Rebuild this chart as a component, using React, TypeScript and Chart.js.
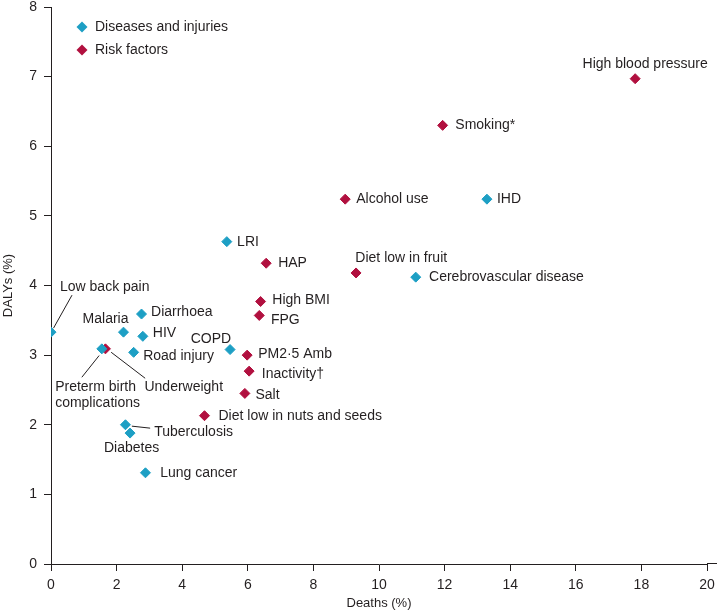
import React, { useEffect, useRef } from 'react';
import { Chart, registerables } from 'chart.js';

Chart.register(...registerables);

// ---------- DATA ----------
const diseaseNames = [
  'Low back pain', 'Malaria', 'Diarrhoea', 'HIV', 'Road injury',
  'Preterm birth complications', 'Tuberculosis', 'Diabetes', 'Lung cancer',
  'COPD', 'LRI', 'Cerebrovascular disease', 'IHD',
];
const diseaseDeaths = [0, 2.21, 2.76, 2.8, 2.52, 1.55, 2.27, 2.41, 2.88, 5.46, 5.36, 11.12, 13.29];
const diseaseDalys = [3.33, 3.33, 3.59, 3.27, 3.04, 3.09, 2.0, 1.88, 1.31, 3.08, 4.63, 4.12, 5.24];

const riskNames = [
  'High blood pressure', 'Smoking*', 'Alcohol use', 'Diet low in fruit', 'HAP',
  'High BMI', 'FPG', 'PM2·5 Amb', 'Inactivity†', 'Salt',
  'Diet low in nuts and seeds', 'Underweight',
];
const riskDeaths = [17.81, 11.94, 8.97, 9.3, 6.56, 6.39, 6.35, 5.98, 6.04, 5.91, 4.68, 1.66];
const riskDalys = [6.97, 6.3, 5.24, 4.18, 4.32, 3.77, 3.57, 3.0, 2.77, 2.45, 2.13, 3.09];

const seriesNames = ['Diseases and injuries', 'Risk factors'];
const xTickValues = [0, 2, 4, 6, 8, 10, 12, 14, 16, 18, 20];
const yTickValues = [0, 1, 2, 3, 4, 5, 6, 7, 8];
const xTitle = 'Deaths (%)';
const yTitle = 'DALYs (%)';

// ---------- STYLE / LAYOUT ----------
const CYAN = '#1d9fc4';
const RED = '#b1103f';
const TEXT = '#231f20';
const FONT = '"Liberation Sans", Arial, sans-serif';

type LabelLayout = {
  dx: number; dy: number; align?: CanvasTextAlign; lines?: string[];
  leader?: [number, number, number, number];
};

const labelLayout: Record<string, LabelLayout> = {
  'Low back pain': { dx: 9, dy: -45, leader: [2.5, -4, 21, -37] },
  'Malaria': { dx: 5, dy: -13, align: 'right' },
  'Diarrhoea': { dx: 9.5, dy: -2 },
  'HIV': { dx: 10, dy: -3 },
  'Road injury': { dx: 9.5, dy: 4 },
  'Preterm birth complications': { dx: -46.7, dy: 38.7, lines: ['Preterm birth', 'complications'], leader: [-2.7, 6.7, -20, 28.4] },
  'Tuberculosis': { dx: 28.7, dy: 7.4, leader: [6.4, 1.4, 24.7, 3.4] },
  'Diabetes': { dx: 1.5, dy: 14.7, align: 'center' },
  'Lung cancer': { dx: 14.7, dy: 0.6 },
  'COPD': { dx: 1, dy: -10, align: 'right' },
  'LRI': { dx: 10.3, dy: 0.7 },
  'Cerebrovascular disease': { dx: 13.3, dy: 0 },
  'IHD': { dx: 10, dy: 0 },
  'High blood pressure': { dx: 10, dy: -15, align: 'center' },
  'Smoking*': { dx: 12.7, dy: 0 },
  'Alcohol use': { dx: 11, dy: 0 },
  'Diet low in fruit': { dx: -0.7, dy: -14.7 },
  'HAP': { dx: 12, dy: 0.3 },
  'High BMI': { dx: 11.7, dy: -1 },
  'FPG': { dx: 11.7, dy: 5 },
  'PM2·5 Amb': { dx: 11, dy: -1.4 },
  'Inactivity†': { dx: 12.7, dy: 3.3 },
  'Salt': { dx: 10.6, dy: 1.7 },
  'Diet low in nuts and seeds': { dx: 14, dy: 0.3 },
  'Underweight': { dx: 39, dy: 38.7, leader: [5.7, 3.4, 39.7, 29.4] },
};

function drawDiamond(ctx: CanvasRenderingContext2D, x: number, y: number, r: number, color: string) {
  ctx.beginPath();
  ctx.moveTo(x, y - r);
  ctx.lineTo(x + r, y);
  ctx.lineTo(x, y + r);
  ctx.lineTo(x - r, y);
  ctx.closePath();
  ctx.fillStyle = color;
  ctx.fill();
}

const annotationPlugin = {
  id: 'annotations',
  afterDraw(chart: any) {
    const ctx: CanvasRenderingContext2D = chart.ctx;
    const area = chart.chartArea;
    ctx.save();
    // extend x axis line a bit beyond 20
    ctx.strokeStyle = TEXT;
    ctx.lineWidth = 1;
    const yb = Math.round(area.bottom) - 0.5;
    ctx.beginPath();
    ctx.moveTo(area.right, yb);
    ctx.lineTo(area.right + 10, yb);
    ctx.stroke();

    ctx.font = `14px ${FONT}`;
    ctx.fillStyle = TEXT;
    ctx.textBaseline = 'middle';

    const nameSets = [diseaseNames, riskNames];
    nameSets.forEach((names, di) => {
      const meta = chart.getDatasetMeta(di);
      meta.data.forEach((el: any, i: number) => {
        const name = names[i];
        const lay = labelLayout[name];
        if (!lay) return;
        const x = el.x, y = el.y;
        ctx.textAlign = lay.align || 'left';
        const lines = lay.lines || [name];
        lines.forEach((ln, li) => {
          ctx.fillText(ln, x + lay.dx, y + lay.dy + li * 16);
        });
        if (lay.leader) {
          const [x1, y1, x2, y2] = lay.leader;
          ctx.beginPath();
          ctx.moveTo(x + x1, y + y1);
          ctx.lineTo(x + x2, y + y2);
          ctx.strokeStyle = TEXT;
          ctx.lineWidth = 1;
          ctx.stroke();
        }
      });
    });

    // legend
    const colors = [CYAN, RED];
    seriesNames.forEach((s, i) => {
      const lx = area.left + 31;
      const ly = area.top + 20 + i * 23;
      drawDiamond(ctx, lx, ly, 5.5, colors[i]);
      ctx.textAlign = 'left';
      ctx.fillStyle = TEXT;
      ctx.fillText(s, lx + 13, ly);
    });
    ctx.restore();
  },
};

export default function App() {
  const ref = useRef<HTMLCanvasElement | null>(null);

  useEffect(() => {
    document.body.style.margin = '0';
    if (!ref.current) return;
    Chart.defaults.font.family = FONT;
    const chart = new Chart(ref.current, {
      type: 'scatter',
      data: {
        datasets: [
          {
            label: seriesNames[0],
            data: diseaseDeaths.map((d, i) => ({ x: d, y: diseaseDalys[i] })),
            backgroundColor: CYAN,
            borderColor: CYAN,
            borderWidth: 1,
            pointStyle: 'rectRot',
            pointRadius: 5,
          },
          {
            label: seriesNames[1],
            data: riskDeaths.map((d, i) => ({ x: d, y: riskDalys[i] })),
            backgroundColor: RED,
            borderColor: RED,
            borderWidth: 1,
            pointStyle: 'rectRot',
            pointRadius: 5,
          },
        ],
      },
      options: {
        animation: false,
        responsive: false,
        layout: { padding: { left: 0, right: 12, top: 7, bottom: 0 } },
        plugins: {
          legend: { display: false },
          tooltip: { enabled: false },
        },
        scales: {
          x: {
            type: 'linear',
            min: xTickValues[0],
            max: xTickValues[xTickValues.length - 1],
            afterBuildTicks: (scale: any) => {
              scale.ticks = xTickValues.map((v) => ({ value: v }));
            },
            afterFit: (scale: any) => {
              scale.height = 49;
              scale.paddingLeft = 0; scale.paddingRight = 0;
              scale.paddingTop = 0; scale.paddingBottom = 0;
            },
            ticks: { color: TEXT, font: { size: 14, family: FONT }, padding: 6, maxRotation: 0, autoSkip: false },
            grid: { display: true, drawOnChartArea: false, drawTicks: true, tickLength: 7, color: TEXT },
            border: { display: true, color: TEXT, width: 1 },
            title: { display: true, text: xTitle, color: TEXT, font: { size: 13, family: FONT }, padding: { top: 0, bottom: 2 } },
          },
          y: {
            type: 'linear',
            min: yTickValues[0],
            max: yTickValues[yTickValues.length - 1],
            afterBuildTicks: (scale: any) => {
              scale.ticks = yTickValues.map((v) => ({ value: v }));
            },
            afterFit: (scale: any) => {
              scale.width = 51;
              scale.paddingLeft = 0; scale.paddingRight = 0;
              scale.paddingTop = 0; scale.paddingBottom = 0;
            },
            ticks: { color: TEXT, font: { size: 14, family: FONT }, padding: 7, autoSkip: false },
            grid: { display: true, drawOnChartArea: false, drawTicks: true, tickLength: 7, color: TEXT },
            border: { display: true, color: TEXT, width: 1 },
            title: { display: true, text: yTitle, color: TEXT, font: { size: 13, family: FONT }, padding: { top: 1, bottom: 0 } },
          },
        },
      },
      plugins: [annotationPlugin],
    } as any);
    return () => chart.destroy();
  }, []);

  return (
    <div style={{ position: 'absolute', left: 0, top: 0, width: 719, height: 613 }}>
      <canvas ref={ref} width={719} height={613} style={{ display: 'block', width: 719, height: 613 }} />
    </div>
  );
}
